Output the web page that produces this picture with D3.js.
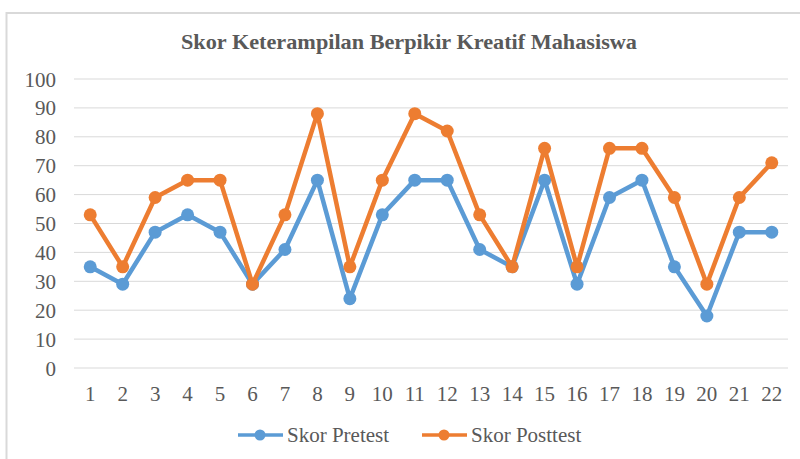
<!DOCTYPE html>
<html>
<head>
<meta charset="utf-8">
<script src="https://cdn.jsdelivr.net/npm/d3@7"></script>
</head>
<body style="margin:0">
<script>
var categories = ["1","2","3","4","5","6","7","8","9","10","11","12","13","14","15","16","17","18","19","20","21","22"];
var pretest  = [35, 29, 47, 53, 47, 29, 41, 65, 24, 53, 65, 65, 41, 35, 65, 29, 59, 65, 35, 18, 47, 47];
var posttest = [53, 35, 59, 65, 65, 29, 53, 88, 35, 65, 88, 82, 53, 35, 76, 35, 76, 76, 59, 29, 59, 71];
var yTicks = [0, 10, 20, 30, 40, 50, 60, 70, 80, 90, 100];

var series = [
  { name: "Skor Pretest", values: pretest, color: "#5b9bd5" },
  { name: "Skor Posttest", values: posttest, color: "#ed7d31" }
];

var w = 800, h = 459;
var fontFam = "Liberation Serif";
var textColor = "#595959";

var svg = d3.select("body").append("svg")
    .attr("width", w)
    .attr("height", h);

// chart frame (right/bottom edges fall outside the picture)
svg.append("rect")
    .attr("x", 6.5).attr("y", 13)
    .attr("width", 820).attr("height", 470)
    .attr("fill", "#fff")
    .attr("stroke", "#d9d9d9")
    .attr("stroke-width", 2);

var x = d3.scaleBand().domain(categories).range([74, 788]);
var y = d3.scaleLinear().domain([0, 100]).range([368, 79]);

// y axis labels
svg.append("g").selectAll("text")
    .data(yTicks)
    .enter().append("text")
    .attr("x", 56)
    .attr("y", function (d) { return y(d) + 7.5; })
    .attr("text-anchor", "end")
    .attr("font-family", fontFam)
    .attr("font-size", 21)
    .attr("fill", textColor)
    .text(function (d) { return d; });

// x axis labels
svg.append("g").selectAll("text")
    .data(categories)
    .enter().append("text")
    .attr("x", function (d) { return x(d) + x.bandwidth() / 2; })
    .attr("y", 401)
    .attr("text-anchor", "middle")
    .attr("font-family", fontFam)
    .attr("font-size", 21)
    .attr("fill", textColor)
    .text(function (d) { return d; });

// gridlines
svg.append("g").selectAll("line")
    .data(yTicks)
    .enter().append("line")
    .attr("x1", 74).attr("x2", 788)
    .attr("y1", function (d) { return y(d); })
    .attr("y2", function (d) { return y(d); })
    .attr("stroke", "#d9d9d9")
    .attr("stroke-width", 1);

var line = d3.line()
    .x(function (d, i) { return x(categories[i]) + x.bandwidth() / 2; })
    .y(function (d) { return y(d); });

series.forEach(function (s) {
    var g = svg.append("g");
    g.append("path")
        .datum(s.values)
        .attr("d", line)
        .attr("fill", "none")
        .attr("stroke", s.color)
        .attr("stroke-width", 4.5)
        .attr("stroke-linejoin", "round");
    g.selectAll("circle")
        .data(s.values)
        .enter().append("circle")
        .attr("cx", function (d, i) { return x(categories[i]) + x.bandwidth() / 2; })
        .attr("cy", function (d) { return y(d); })
        .attr("r", 6.5)
        .attr("fill", s.color);
});

// legend
var legendX = [238, 422];
series.forEach(function (s, i) {
    var lg = svg.append("g").attr("transform", "translate(" + legendX[i] + ",435)");
    lg.append("line")
        .attr("x1", 0).attr("x2", 45)
        .attr("stroke", s.color)
        .attr("stroke-width", 3.5);
    lg.append("circle")
        .attr("cx", 22).attr("r", 5.5)
        .attr("fill", s.color);
    lg.append("text")
        .attr("x", 49).attr("y", 7)
        .attr("font-family", fontFam)
        .attr("font-size", 21)
        .attr("fill", textColor)
        .text(s.name);
});

svg.append("text")
    .attr("x", 409).attr("y", 49)
    .attr("text-anchor", "middle")
    .attr("font-family", fontFam)
    .attr("font-size", 21)
    .attr("font-weight", "bold")
    .attr("fill", textColor)
    .attr("textLength", 456)
    .attr("lengthAdjust", "spacingAndGlyphs")
    .text("Skor Keterampilan Berpikir  Kreatif Mahasiswa");
</script>
</body>
</html>
